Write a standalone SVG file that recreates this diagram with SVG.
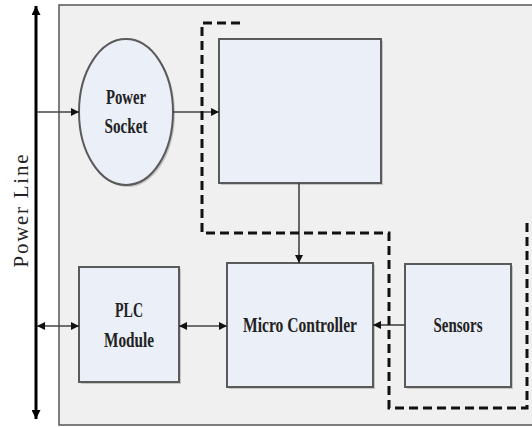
<svg xmlns="http://www.w3.org/2000/svg" width="532" height="427" viewBox="0 0 532 427">
<defs>
<marker id="ah" viewBox="0 0 10 10" refX="10" refY="5" markerWidth="8" markerHeight="8" markerUnits="userSpaceOnUse" orient="auto-start-reverse">
<path d="M0,0 L10,5 L0,10 z" fill="#111"/>
</marker>
<marker id="ahp" viewBox="0 0 10 10" refX="10" refY="5" markerWidth="9" markerHeight="9" markerUnits="userSpaceOnUse" orient="auto-start-reverse">
<path d="M0,0 L10,5 L0,10 z" fill="#000"/>
</marker>
</defs>
<style>
.box{fill:#ebeff7;stroke:#5a5a5a;stroke-width:2}
.sh{fill:#9a9a9a;opacity:0.5}
.lbl{font-family:"Liberation Serif","Times New Roman",serif;font-weight:bold;font-size:21px;fill:#222;text-anchor:middle}
.con{stroke:#444;stroke-width:1.6;fill:none}
.dash{stroke:#111;stroke-width:3;fill:none;stroke-dasharray:9 5}
</style>
<rect width="532" height="427" fill="#fff"/>
<rect id="container" x="59" y="5" width="480" height="420" fill="#f0f0f0" stroke="#555" stroke-width="1.5"/>

<g id="power-line">
<line x1="36" y1="419" x2="36" y2="6" stroke="#000" stroke-width="3" marker-end="url(#ahp)" marker-start="url(#ahp)"/>
<text x="28" y="211" transform="rotate(-90 28 211)" font-family="'Liberation Serif','Times New Roman',serif" font-size="21" fill="#222" text-anchor="middle" textLength="113" lengthAdjust="spacing">Power Line</text>
</g>

<g id="power-socket">
<ellipse class="sh" cx="128" cy="114" rx="47" ry="73"/>
<ellipse class="box" cx="126" cy="112" rx="47" ry="73"/>
<text class="lbl" x="126" y="104" textLength="40" lengthAdjust="spacingAndGlyphs">Power</text>
<text class="lbl" x="126" y="133" textLength="43" lengthAdjust="spacingAndGlyphs">Socket</text>
</g>

<g id="top-box">
<rect class="sh" x="221" y="41" width="162" height="144"/>
<rect class="box" x="219" y="39" width="162" height="144"/>
</g>

<g id="plc-module">
<rect class="sh" x="81" y="269" width="100" height="115"/>
<rect class="box" x="79" y="267" width="100" height="115"/>
<text class="lbl" x="129" y="317" textLength="28" lengthAdjust="spacingAndGlyphs">PLC</text>
<text class="lbl" x="129" y="347" textLength="50" lengthAdjust="spacingAndGlyphs">Module</text>
</g>

<g id="micro-controller">
<rect class="sh" x="229" y="265" width="146" height="124"/>
<rect class="box" x="227" y="263" width="146" height="124"/>
<text class="lbl" x="300" y="332" textLength="114" lengthAdjust="spacingAndGlyphs">Micro Controller</text>
</g>

<g id="sensors">
<rect class="sh" x="407" y="266" width="106" height="123"/>
<rect class="box" x="405" y="264" width="106" height="123"/>
<text class="lbl" x="458" y="332" textLength="49" lengthAdjust="spacingAndGlyphs">Sensors</text>
</g>

<g id="connectors">
<line class="con" x1="37" y1="112" x2="79" y2="112" marker-end="url(#ah)"/>
<line class="con" x1="173" y1="112" x2="219" y2="112" marker-end="url(#ah)"/>
<line class="con" x1="299" y1="183" x2="299" y2="263" marker-end="url(#ah)"/>
<line class="con" x1="37" y1="326" x2="79" y2="326" marker-start="url(#ah)" marker-end="url(#ah)"/>
<line class="con" x1="179" y1="326" x2="227" y2="326" marker-start="url(#ah)" marker-end="url(#ah)"/>
<line class="con" x1="405" y1="325" x2="373" y2="325" marker-end="url(#ah)"/>
<path class="dash" d="M240,23 H202 V233 H389 V408 H527 V220"/>
</g>
</svg>
